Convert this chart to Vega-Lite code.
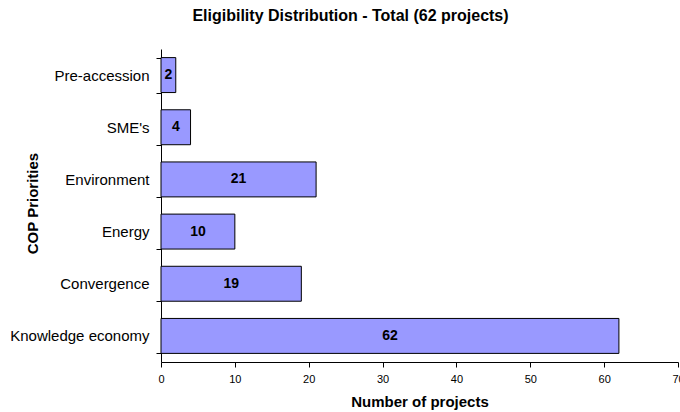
{
  "$schema": "https://vega.github.io/schema/vega-lite/v6.json",
  "width": 517,
  "height": 313,
  "autosize": {"type": "none"},
  "padding": {"left": 161, "top": 49, "right": 2, "bottom": 50},
  "background": "white",
  "title": {
    "text": "Eligibility Distribution - Total (62 projects)",
    "font": "Liberation Sans",
    "fontSize": 16,
    "fontWeight": "bold",
    "color": "black",
    "anchor": "middle",
    "frame": "group",
    "dx": -69,
    "offset": 18
  },
  "data": {
    "values": [
      {"priority": "Pre-accession", "projects": 2},
      {"priority": "SME's", "projects": 4},
      {"priority": "Environment", "projects": 21},
      {"priority": "Energy", "projects": 10},
      {"priority": "Convergence", "projects": 19},
      {"priority": "Knowledge economy", "projects": 62}
    ]
  },
  "config": {
    "view": {"stroke": null},
    "axis": {
      "labelFont": "Liberation Sans",
      "titleFont": "Liberation Sans",
      "labelColor": "black",
      "titleColor": "black",
      "domainColor": "black",
      "tickColor": "black",
      "grid": false
    }
  },
  "encoding": {
    "y": {
      "field": "priority",
      "type": "nominal",
      "sort": null,
      "scale": {"paddingInner": 0.33, "paddingOuter": 0.165},
      "axis": {
        "title": "COP Priorities",
        "titleFontSize": 15,
        "titleFontWeight": "bold",
        "titleX": -129,
        "titleY": 154,
        "titleAlign": "center",
        "titleBaseline": "middle",
        "titleAngle": -90,
        "labelFontSize": 15,
        "labelPadding": 7,
        "tickBand": "extent",
        "tickSize": 5
      }
    }
  },
  "layer": [
    {
      "mark": {"type": "bar", "fill": "#9999FF", "stroke": "black", "strokeWidth": 1},
      "encoding": {
        "x": {
          "field": "projects",
          "type": "quantitative",
          "scale": {"domain": [0, 70], "nice": false},
          "axis": {
            "title": "Number of projects",
            "titleFontSize": 15,
            "titleFontWeight": "bold",
            "titlePadding": 10,
            "labelFontSize": 11,
            "labelPadding": 6,
            "values": [0, 10, 20, 30, 40, 50, 60, 70],
            "tickSize": 5,
            "labelFlush": false,
            "labelOverlap": false,
            "labelBound": false
          }
        }
      }
    },
    {
      "mark": {"type": "text", "font": "Liberation Sans", "fontSize": 14, "fontWeight": "bold", "color": "black", "align": "center", "baseline": "middle"},
      "encoding": {
        "x": {
          "field": "projects",
          "type": "quantitative",
          "scale": {"domain": [0, 140], "nice": false},
          "axis": null
        },
        "text": {"field": "projects", "type": "quantitative"}
      }
    }
  ],
  "resolve": {"scale": {"x": "independent"}}
}
